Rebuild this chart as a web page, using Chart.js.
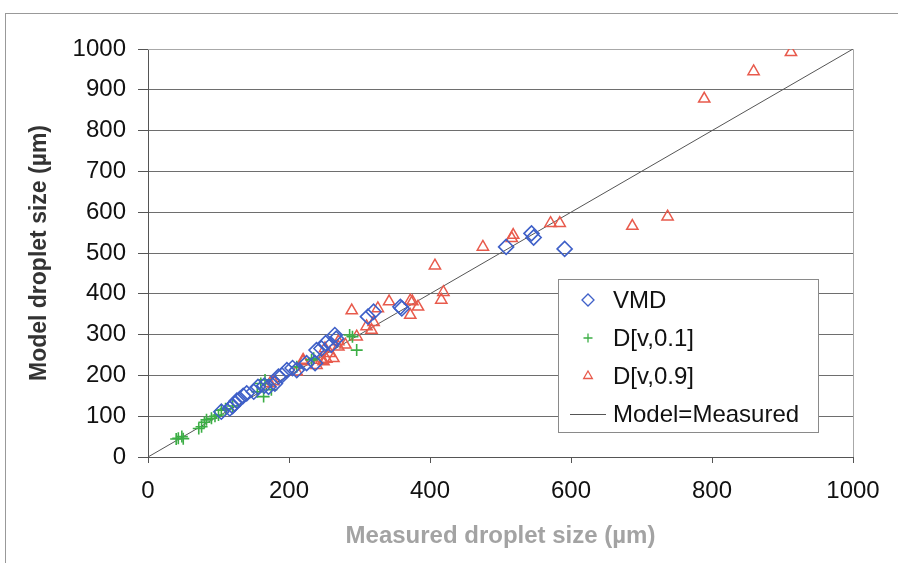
<!DOCTYPE html>
<html>
<head>
<meta charset="utf-8">
<script src="https://cdn.jsdelivr.net/npm/chart.js@4"></script>
<style>
  html, body { margin: 0; padding: 0; background: #fff; }
  #wrap { position: relative; width: 898px; height: 563px; overflow: hidden; }
  #frame { position: absolute; left: 5px; top: 13px; width: 1000px; height: 1000px;
           border-left: 1px solid #999; border-top: 1px solid #999; }
  canvas { position: absolute; left: 0; top: 0; }
</style>
</head>
<body>
<div id="wrap">
  <div id="frame"></div>
  <canvas id="scatterChart" width="898" height="563"></canvas>
</div>
<script>
// series names
const seriesNames = ['VMD', 'D[v,0.1]', 'D[v,0.9]', 'Model=Measured'];

// VMD (blue diamonds)
const vmdX = [104, 116, 120, 123, 126, 130, 135, 140, 150, 156, 165, 171, 180, 185, 190, 197, 205, 211, 225, 237, 239, 246, 252, 260, 265, 267, 312, 320, 358, 360, 508, 544, 547, 591];
const vmdY = [111, 119, 125, 131, 138, 142, 150, 156, 160, 172, 175, 172, 180, 197, 200, 213, 218, 213, 230, 230, 262, 266, 279, 275, 299, 290, 344, 356, 368, 364, 515, 548, 538, 510];

// D[v,0.1] (green crosses)
const d10X = [40, 43, 48, 50, 72, 76, 80, 83, 90, 95, 100, 104, 110, 120, 155, 160, 164, 166, 175, 211, 232, 235, 286, 296, 290];
const d10Y = [44, 46, 50, 45, 70, 74, 85, 91, 95, 100, 103, 115, 118, 125, 160, 180, 148, 189, 165, 221, 238, 242, 299, 262, 295];

// D[v,0.9] (red triangles)
const d90X = [173, 178, 211, 220, 220, 239, 246, 249, 251, 253, 258, 263, 270, 270, 280, 289, 296, 310, 317, 320, 326, 342, 372, 372, 375, 383, 407, 416, 419, 475, 516, 518, 571, 584, 687, 737, 789, 859, 912];
const d90Y = [180, 185, 209, 234, 238, 225, 238, 234, 266, 240, 254, 242, 270, 283, 275, 359, 295, 320, 311, 330, 364, 381, 348, 383, 381, 368, 469, 385, 404, 515, 536, 544, 573, 573, 566, 589, 878, 945, 992];

// 1:1 line
const lineX = [0, 1000];
const lineY = [0, 1000];

const toPoints = (xs, ys) => xs.map((x, i) => ({ x: x, y: ys[i] }));

const blue = '#3f60c8';
const green = '#3cae45';
const red = '#e85a4c';
const lineCol = '#555555';
const FONT = '"Liberation Sans", Arial, sans-serif';

// legend drawn inside the plot, like the original
const boxLegend = {
    id: 'boxLegend',
    afterDraw(chart) {
        const ctx = chart.ctx;
        const x0 = 558, y0 = 279, w = 260, h = 153;
        ctx.save();
        ctx.fillStyle = '#fff';
        ctx.fillRect(x0, y0, w, h);
        ctx.strokeStyle = '#8a8a8a';
        ctx.lineWidth = 1;
        ctx.strokeRect(x0 + 0.5, y0 + 0.5, w, h);
        const rows = [300, 338, 376, 414];
        ctx.font = '24px ' + FONT;
        ctx.textBaseline = 'middle';
        chart.data.datasets.forEach((ds, i) => {
            const cy = rows[i];
            if (ds.showLine) {
                ctx.strokeStyle = ds.borderColor;
                ctx.lineWidth = 1;
                ctx.beginPath();
                ctx.moveTo(570, cy + 0.5);
                ctx.lineTo(606, cy + 0.5);
                ctx.stroke();
            } else {
                ctx.strokeStyle = ds.borderColor;
                ctx.fillStyle = 'rgba(0,0,0,0)';
                ctx.lineWidth = 1.3;
                Chart.helpers.drawPoint(ctx, { pointStyle: ds.pointStyle, radius: ds.pointRadius - 1.5, borderWidth: 1.3 }, 588, cy);
            }
            ctx.fillStyle = '#111';
            ctx.fillText(ds.label, 613, cy + 1);
        });
        ctx.restore();
    }
};

// light frame on top and right side of plot area
const plotFrame = {
    id: 'plotFrame',
    beforeDatasetsDraw(chart) {
        const a = chart.chartArea, ctx = chart.ctx;
        ctx.save();
        ctx.strokeStyle = '#a8a8a8';
        ctx.lineWidth = 1;
        ctx.beginPath();
        ctx.moveTo(a.left, a.top + 0.5);
        ctx.lineTo(a.right + 0.5, a.top + 0.5);
        ctx.lineTo(a.right + 0.5, a.bottom);
        ctx.stroke();
        ctx.restore();
    }
};

new Chart(document.getElementById('scatterChart').getContext('2d'), {
    type: 'scatter',
    data: {
        datasets: [
            { label: seriesNames[0], data: toPoints(vmdX, vmdY), pointStyle: 'rectRot', pointRadius: 7.5,
              borderColor: blue, backgroundColor: 'rgba(0,0,0,0)', borderWidth: 1.6, pointHoverRadius: 7.5 },
            { label: seriesNames[1], data: toPoints(d10X, d10Y), pointStyle: 'cross', pointRadius: 6,
              borderColor: green, backgroundColor: 'rgba(0,0,0,0)', borderWidth: 1.6, pointHoverRadius: 6 },
            { label: seriesNames[2], data: toPoints(d90X, d90Y), pointStyle: 'triangle', pointRadius: 6.5,
              borderColor: red, backgroundColor: 'rgba(0,0,0,0)', borderWidth: 1.5, pointHoverRadius: 6.5 },
            { label: seriesNames[3], data: toPoints(lineX, lineY), showLine: true, pointRadius: 0,
              borderColor: lineCol, borderWidth: 1, backgroundColor: lineCol }
        ]
    },
    options: {
        responsive: false, animation: false,
        layout: { padding: { left: 0, top: 49, right: 45, bottom: 0 } },
        plugins: { legend: { display: false }, tooltip: { enabled: false } },
        scales: {
            x: {
                type: 'linear', min: 0, max: 1000,
                afterFit: (s) => { s.height = 106; },
                ticks: { stepSize: 200, padding: 14, color: '#111', callback: (v) => String(v),
                         font: { family: FONT, size: 24 } },
                grid: { drawOnChartArea: false, drawTicks: true, tickLength: 6, tickColor: '#555' },
                border: { color: '#555', width: 1 },
                title: { display: true, text: 'Measured droplet size (µm)', color: '#a3a3a3',
                         padding: { top: 0, bottom: 12 },
                         font: { family: FONT, size: 24, weight: 'bold' } }
            },
            y: {
                type: 'linear', min: 0, max: 1000,
                afterFit: (s) => { s.width = 148; },
                ticks: { stepSize: 100, padding: 12, color: '#111', callback: (v) => String(v),
                         font: { family: FONT, size: 24 } },
                grid: { color: (c) => c.tick && c.tick.value === 1000 ? '#a8a8a8' : '#6e6e6e',
                        tickColor: '#555', tickLength: 10, lineWidth: 1 },
                border: { color: '#555', width: 1 },
                title: { display: true, text: 'Model droplet size (µm)', color: '#333',
                         padding: { top: 26, bottom: 0 },
                         font: { family: FONT, size: 23, weight: 'bold' } }
            }
        }
    },
    plugins: [plotFrame, boxLegend]
});
</script>
</body>
</html>
